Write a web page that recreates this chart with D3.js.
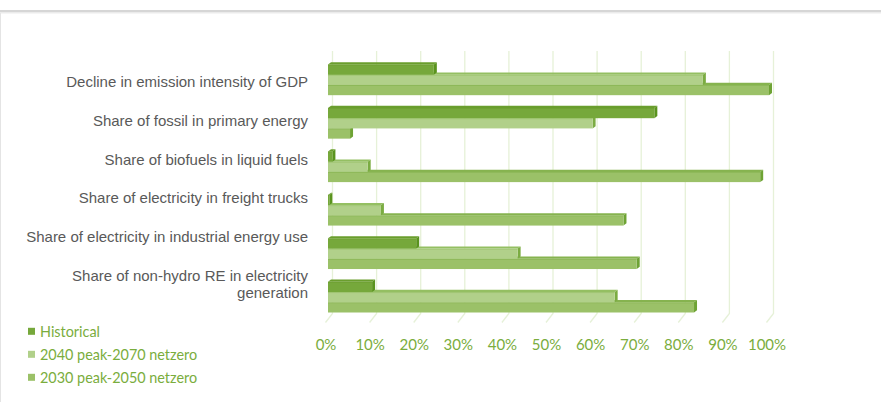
<!DOCTYPE html>
<html>
<head>
<meta charset="utf-8">
<script src="https://cdn.jsdelivr.net/npm/d3@7"></script>
<style>
  html, body { margin: 0; padding: 0; background: #fff; }
  svg { display: block; }
</style>
</head>
<body>
<svg id="chart" width="881" height="402"></svg>
<script>
// ---- data ----
const categories = [
  "Decline in emission intensity of GDP",
  "Share of fossil in primary energy",
  "Share of biofuels in liquid fuels",
  "Share of electricity in freight trucks",
  "Share of electricity in industrial energy use",
  "Share of non-hydro RE in electricity generation"
];
const seriesNames = ["Historical", "2040 peak-2070 netzero", "2030 peak-2050 netzero"];
const historical = [24, 74, 1, 0.3, 20, 10];
const peak2040 = [85, 60, 9, 12, 43, 65];
const peak2030 = [100, 5, 98, 67, 70, 83];
const tickValues = [0, 10, 20, 30, 40, 50, 60, 70, 80, 90, 100];
const tickLabels = tickValues.map(v => v + "%");

// ---- styles ----
const colors = {
  "Historical": { front: "#76a83b", top: "#6a9e2d", side: "#5a931e" },
  "2040 peak-2070 netzero": { front: "#b1d08a", top: "#94bf62", side: "#7bac42" },
  "2030 peak-2050 netzero": { front: "#9bc168", top: "#86b34f", side: "#6ea334" }
};
const legendColors = ["#76a83b", "#b1d08a", "#9bc168"];
const seriesValues = [historical, peak2040, peak2030];

const svg = d3.select("#chart");

// frame
svg.append("rect").attr("x", 0).attr("y", 10).attr("width", 881).attr("height", 2.5).attr("fill", "#d6d6d6");
svg.append("rect").attr("x", 0).attr("y", 12.5).attr("width", 881).attr("height", 1).attr("fill", "#ececec");
svg.append("line").attr("x1", 0.5).attr("x2", 0.5).attr("y1", 13).attr("y2", 402).attr("stroke", "#e4e4e4");

// scales
const x = d3.scaleLinear().domain([0, 100]).range([328, 769]);
const y = d3.scaleBand().domain(categories).range([64.5, 312.5]).paddingInner(0.294).paddingOuter(0);
const ys = d3.scaleBand().domain(seriesNames).range([0, y.bandwidth()]);
const yLabel = d3.scalePoint().domain(categories).range([81, 275]);

const wallDx = 4.5;      // back wall offset
const floorDx = -7, floorDy = 9;
const wallTop = 51, wallBottom = 313.5;
const barDx = 3, barDy = -2.2;

// gridlines (back wall + floor slant)
const grid = svg.append("g");
tickValues.forEach(v => {
  const gx = x(v) + wallDx;
  grid.append("path")
    .attr("d", `M${gx},${wallTop} L${gx},${wallBottom} L${gx + floorDx},${wallBottom + floorDy}`)
    .attr("fill", "none")
    .attr("stroke", "#e6f1d8")
    .attr("stroke-width", 1.3);
});

// bars
const bars = svg.append("g");
categories.forEach((cat, ci) => {
  for (let si = seriesNames.length - 1; si >= 0; si--) {
    const s = seriesNames[si];
    const v = seriesValues[si][ci];
    const c = colors[s];
    const x0 = x(0), x1 = x(v);
    const t = y(cat) + ys(s);
    const h = ys.bandwidth();
    const g = bars.append("g");
    g.append("path")
      .attr("d", `M${x0},${t} L${x0 + barDx},${t + barDy} L${x1 + barDx},${t + barDy} L${x1},${t} Z`)
      .attr("fill", c.top);
    g.append("path")
      .attr("d", `M${x1},${t} L${x1 + barDx},${t + barDy} L${x1 + barDx},${t + h + barDy} L${x1},${t + h} Z`)
      .attr("fill", c.side);
    g.append("rect")
      .attr("x", x0).attr("y", t)
      .attr("width", Math.max(0, x1 - x0)).attr("height", h)
      .attr("fill", c.front);
    g.append("rect")
      .attr("x", x0).attr("y", t)
      .attr("width", Math.max(0, x1 - x0)).attr("height", 1)
      .attr("fill", c.top).attr("opacity", 0.6);
  }
});

// x axis tick labels (front floor edge)
const axis = d3.axisBottom(x).tickValues(tickValues).tickFormat((d, i) => tickLabels[i]).tickSize(0).tickPadding(0);
const axG = svg.append("g").attr("transform", "translate(-2.5,339)").call(axis);
axG.select(".domain").remove();
axG.selectAll("text")
  .attr("font-family", "Lato, 'Open Sans', sans-serif")
  .attr("font-size", "15px")
  .attr("fill", "#7aad3d")
  .attr("dy", "0.71em");

// category labels
const labG = svg.append("g");
categories.forEach(cat => {
  const txt = labG.append("text")
    .attr("x", 308)
    .attr("y", yLabel(cat))
    .attr("text-anchor", "end")
    .attr("dominant-baseline", "central")
    .attr("font-family", "'Liberation Sans', Arial, sans-serif")
    .attr("font-size", "15px")
    .attr("fill", "#595959");
  const words = cat.split(" ");
  let line = [];
  let tspan = txt.append("tspan").attr("x", 308).attr("dy", 0);
  words.forEach(w => {
    line.push(w);
    tspan.text(line.join(" "));
    if (tspan.node().getComputedTextLength() > 290 && line.length > 1) {
      line.pop();
      tspan.text(line.join(" "));
      line = [w];
      tspan = txt.append("tspan").attr("x", 308).attr("dy", 17).text(w);
    }
  });
});

// legend
const leg = svg.append("g");
seriesNames.forEach((s, i) => {
  const cy = 331.3 + i * 23;
  leg.append("rect").attr("x", 28).attr("y", cy - 3.5).attr("width", 7).attr("height", 7).attr("fill", legendColors[i]);
  leg.append("text")
    .attr("x", 40).attr("y", cy)
    .attr("dominant-baseline", "central")
    .attr("font-family", "Lato, 'Open Sans', sans-serif")
    .attr("font-size", "14.4px")
    .attr("fill", "#7aad3d")
    .text(s);
});
</script>
</body>
</html>
